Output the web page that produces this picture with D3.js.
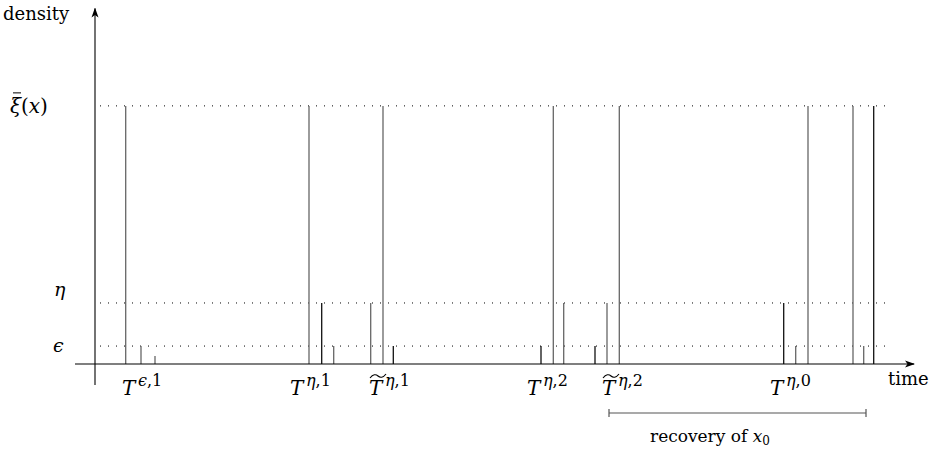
<!DOCTYPE html>
<html>
<head>
<meta charset="utf-8">
<script src="https://d3js.org/d3.v7.min.js"></script>
<style>
body { margin: 0; background: #fff; }
</style>
</head>
<body>
<div id="chart"></div>
<script>
// density levels (axis units, 0..100)
var levelNames = ["xi", "eta", "eps"];
var levelValues = [71.9, 17, 5];
var smallValue = 2.2;

// spikes: time position and height level
var spikeTimes  = [30.7, 46, 60, 214, 226.7, 238.7, 275.7, 288, 298.3, 446, 458.3, 468.7, 500, 512, 524.3, 688.7, 700.7, 713, 758, 768.7, 778.7];
var spikeLevels = ["xi", "eps", "small", "xi", "eta", "eps", "eta", "xi", "eps", "eps", "xi", "eta", "eps", "eta", "xi", "eta", "eps", "xi", "xi", "eps", "xi"];
var spikeDark   = [0, 0, 0, 0, 1, 0, 0, 0, 1, 1, 0, 0, 1, 0, 0, 1, 0, 0, 0, 0, 1];

// time labels (superscript, tilde, time position of label)
var tLabels = [
  {sup: "ϵ,1", tilde: false, t: 50},
  {sup: "η,1", tilde: false, t: 218},
  {sup: "η,1", tilde: true,  t: 297},
  {sup: "η,2", tilde: false, t: 455},
  {sup: "η,2", tilde: true,  t: 530},
  {sup: "η,0", tilde: false, t: 698}
];
var recovery = [514, 771];

var width = 936, height = 450;
var svg = d3.select("#chart").append("svg").attr("width", width).attr("height", height)
  .attr("font-family", "'DejaVu Serif', 'Liberation Serif', serif");

var x = d3.scaleLinear().domain([0, 820]).range([95, 915]);
var y = d3.scaleLinear().domain([0, 100]).range([364, 5]);
var level = function(n) { return n == "small" ? smallValue : levelValues[levelNames.indexOf(n)]; };

var defs = svg.append("defs");
defs.append("marker").attr("id", "arr").attr("viewBox", "0 0 10 10")
  .attr("refX", 9).attr("refY", 5).attr("markerWidth", 10).attr("markerHeight", 10)
  .attr("markerUnits", "userSpaceOnUse").attr("orient", "auto")
  .append("path").attr("d", "M0,1.5 L10,5 L0,8.5 L2.5,5 z").attr("fill", "#000");

// dotted level lines
svg.selectAll(".lvl").data(levelValues).enter().append("line")
  .attr("x1", x(5)).attr("x2", x(797))
  .attr("y1", d => y(d)).attr("y2", d => y(d))
  .attr("stroke", "#000").attr("stroke-width", 1).attr("stroke-dasharray", "1,7");

// spikes
svg.selectAll(".spike").data(spikeTimes).enter().append("line")
  .attr("x1", d => x(d)).attr("x2", d => x(d))
  .attr("y1", y(0)).attr("y2", (d, i) => y(level(spikeLevels[i])))
  .attr("stroke", (d, i) => spikeDark[i] ? "#111" : "#666")
  .attr("stroke-width", 1.3);

// axes
svg.append("line").attr("x1", x(0)).attr("x2", x(0)).attr("y1", 385).attr("y2", y(99))
  .attr("stroke", "#000").attr("stroke-width", 1.1).attr("marker-end", "url(#arr)");
svg.append("line").attr("x1", x(-20)).attr("x2", x(819)).attr("y1", y(0)).attr("y2", y(0))
  .attr("stroke", "#000").attr("stroke-width", 1.1).attr("marker-end", "url(#arr)");

svg.append("text").attr("x", 3).attr("y", 20).attr("font-size", 18).text("density");
svg.append("text").attr("x", 888).attr("y", 385).attr("font-size", 18).text("time");

// level labels
var xiT = svg.append("text").attr("x", 10).attr("y", y(levelValues[0]) + 7).attr("font-size", 20);
xiT.append("tspan").attr("font-style", "italic").text("ξ");
xiT.append("tspan").text("(");
xiT.append("tspan").attr("font-style", "italic").text("x");
xiT.append("tspan").text(")");
svg.append("line").attr("x1", 13).attr("x2", 21).attr("y1", y(levelValues[0]) - 13).attr("y2", y(levelValues[0]) - 13)
  .attr("stroke", "#000").attr("stroke-width", 1);
svg.append("text").attr("x", 54).attr("y", y(levelValues[1]) - 7).attr("font-size", 19)
  .attr("font-style", "italic").text("η");
svg.append("text").attr("x", 53).attr("y", y(levelValues[2]) + 6).attr("font-size", 19)
  .attr("font-style", "italic").text("ϵ");

// time labels
var tl = svg.selectAll(".tl").data(tLabels).enter().append("g")
  .attr("transform", d => "translate(" + (x(d.t) - 23) + ",395)");
tl.append("text").attr("font-size", 20).attr("font-style", "italic").text("T");
tl.append("text").attr("x", 16).attr("y", -9).attr("font-size", 16)
  .each(function(d) {
    var s = d3.select(this);
    s.append("tspan").attr("font-style", "italic").text(d.sup.split(",")[0]);
    s.append("tspan").text("," + d.sup.split(",")[1]);
  });
tl.filter(d => d.tilde).append("path")
  .attr("d", "M1,-17 C4,-21 7,-21 9,-19 S14,-17 17,-21")
  .attr("fill", "none").attr("stroke", "#000").attr("stroke-width", 1.1);

// recovery bracket
var by = 413;
svg.append("line").attr("x1", x(recovery[0])).attr("x2", x(recovery[1])).attr("y1", by).attr("y2", by)
  .attr("stroke", "#555").attr("stroke-width", 1.2);
svg.selectAll(".bt").data(recovery).enter().append("line")
  .attr("x1", d => x(d)).attr("x2", d => x(d)).attr("y1", by - 4).attr("y2", by + 4)
  .attr("stroke", "#555").attr("stroke-width", 1.2);
var rt = svg.append("text").attr("x", x(recovery[0]) + 41).attr("y", 442)
  .attr("font-size", 17);
rt.append("tspan").text("recovery of ");
rt.append("tspan").attr("font-style", "italic").text("x");
rt.append("tspan").attr("font-size", 12).attr("dy", 3).text("0");
</script>
</body>
</html>
